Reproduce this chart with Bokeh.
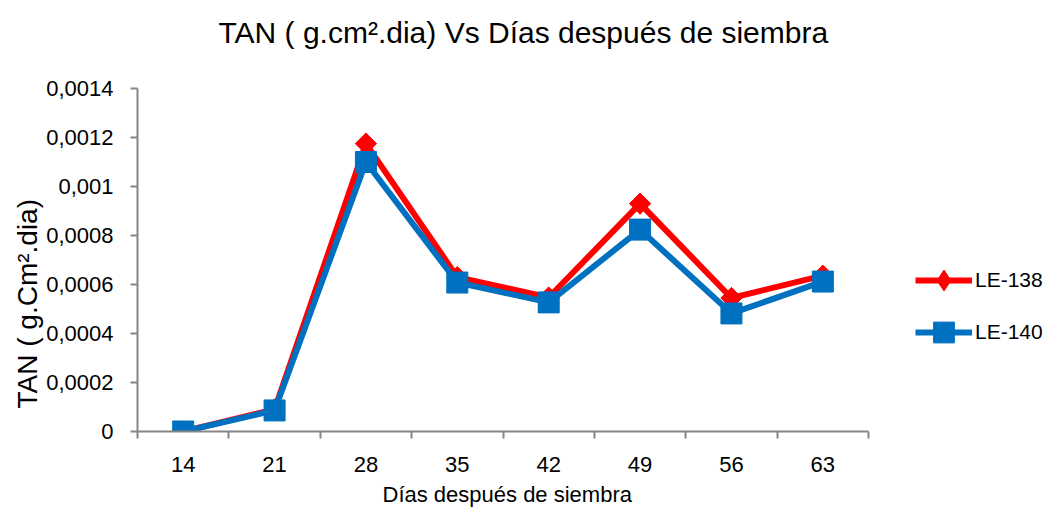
import math
from bokeh.plotting import figure
from bokeh.models import FixedTicker, CustomJSTickFormatter, Legend, Title
from bokeh.embed import file_html
from bokeh.resources import INLINE

# ---- data ----
days = [14, 21, 28, 35, 42, 49, 56, 63]
le138 = [0.0, 0.00009, 0.001175, 0.00063, 0.000547, 0.00093, 0.000545, 0.000636]
le140 = [0.0, 0.000086, 0.0011, 0.000608, 0.000527, 0.000824, 0.000482, 0.000612]
y_ticks = [0, 0.0002, 0.0004, 0.0006, 0.0008, 0.001, 0.0012, 0.0014]
series_names = ["LE-138", "LE-140"]

TITLE = "TAN ( g.cm\u00b2.dia) Vs D\u00edas despu\u00e9s de siembra"
X_LABEL = "D\u00edas despu\u00e9s de siembra"
Y_LABEL = "TAN ( g.Cm\u00b2.dia)"

FONT = "Liberation Sans"

RED = "#FF0000"
BLUE = "#0070C0"
AXIS = "#868686"

# layout (pixels)
W, H = 1047, 514
LEFT, TOP, BOTTOM = 137, 88, 83
AXIS_W = 731                       # width of the drawn x axis
FRAME_W = W - LEFT

X0 = days[0] - 3.5
XA1 = days[-1] + 3.5
px_per_unit = AXIS_W / (XA1 - X0)
X1 = X0 + FRAME_W / px_per_unit    # frame extends right to hold the legend

p = figure(
    width=W, height=H,
    x_range=(X0, X1),
    y_range=(0, 0.0014),
    output_backend="svg", toolbar_location=None,
    min_border_left=LEFT, min_border_right=0,
    min_border_top=TOP, min_border_bottom=BOTTOM,
)
p.outline_line_color = None
p.grid.visible = False
p.background_fill_color = "white"
p.border_fill_color = "white"

# title (spacer first, nearest the frame)
p.add_layout(Title(text=" ", text_font=FONT, text_font_size="21px"), "above")
p.add_layout(Title(text=TITLE, text_font=FONT, text_font_size="30px", text_font_style="normal",
                   text_color="#000000", align="left", offset=81), "above")

# x axis
xa = p.xaxis[0]
xa.bounds = (X0, XA1)
xa.ticker = FixedTicker(ticks=days, minor_ticks=[d - 3.5 for d in days] + [days[-1] + 3.5])
xa.major_tick_out = 0
xa.major_tick_in = 0
xa.minor_tick_out = 7
xa.minor_tick_in = 0
xa.minor_tick_line_color = AXIS
xa.minor_tick_line_width = 2
xa.axis_line_color = AXIS
xa.axis_line_width = 2
xa.major_label_text_font = FONT
xa.major_label_text_font_size = "22px"
xa.major_label_text_color = "#000000"
xa.major_label_standoff = 18

p.add_layout(Title(text=X_LABEL, text_font=FONT, text_font_size="22px", text_font_style="normal",
                   text_color="#000000", align="left", offset=245), "below")

# y axis
ya = p.yaxis[0]
ya.ticker = FixedTicker(ticks=y_ticks, minor_ticks=[])
ya.formatter = CustomJSTickFormatter(code="""
if (tick == 0) return "0";
let s = tick.toFixed(4).replace(/0+$/, '');
return s.replace('.', ',');
""")
ya.major_tick_out = 7
ya.major_tick_in = 0
ya.major_tick_line_color = AXIS
ya.major_tick_line_width = 2
ya.minor_tick_out = 0
ya.axis_line_color = AXIS
ya.axis_line_width = 2
ya.major_label_text_font = FONT
ya.major_label_text_font_size = "22px"
ya.major_label_text_color = "#000000"
ya.major_label_standoff = 17

p.add_layout(Title(text=Y_LABEL, text_font=FONT, text_font_size="28px", text_font_style="normal",
                   text_color="#000000", align="left", offset=23, standoff=2), "left")

# series
r1l = p.line(days, le138, line_color=RED, line_width=6, line_join="round")
r1m = p.scatter(days, le138, marker="square", angle=math.pi / 4, size=15,
                fill_color=RED, line_color=RED, line_width=1)
r2l = p.line(days, le140, line_color=BLUE, line_width=6, line_join="round")
r2m = p.scatter(days, le140, marker="square", size=21,
                fill_color=BLUE, line_color=BLUE, line_width=1, line_join="round")
# legend-only proxy: legend glyphs ignore marker angle, so use a diamond marker there
r1proxy = p.scatter(days, le138, marker="diamond", size=21,
                    fill_color=RED, line_color=RED, visible=False)

legend = Legend(
    items=[(series_names[0], [r1l, r1proxy]), (series_names[1], [r2l, r2m])],
    location=(778, 73),
    orientation="vertical",
    glyph_width=57, glyph_height=52,
    label_height=30, label_standoff=3,
    spacing=-2, padding=0, margin=0,
    border_line_color=None, background_fill_alpha=0,
    label_text_font=FONT, label_text_font_size="21px",
    label_text_color="#000000",
)
p.add_layout(legend, "center")

open("out.html", "w").write(file_html(p, INLINE))
